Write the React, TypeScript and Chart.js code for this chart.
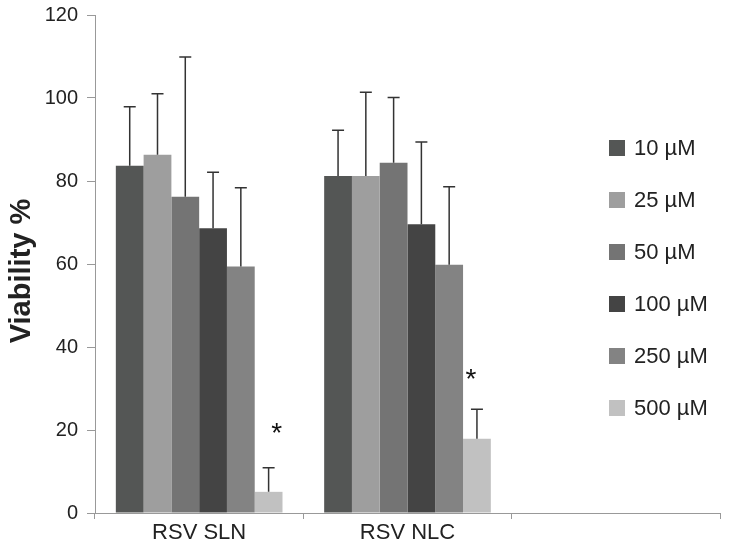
import React, { useEffect, useRef } from "react";
import { Chart, registerables } from "chart.js";

Chart.register(...registerables);

const categories = ["RSV SLN", "RSV NLC", ""];
const seriesLabels = ["10 µM", "25 µM", "50 µM", "100 µM", "250 µM", "500 µM"];
const seriesColors = ["#545655", "#9e9e9e", "#747474", "#444444", "#838383", "#c1c1c1"];

const v10 = [83.7, 81.2, null];
const v25 = [86.3, 81.2, null];
const v50 = [76.2, 84.4, null];
const v100 = [68.6, 69.6, null];
const v250 = [59.4, 59.8, null];
const v500 = [5.1, 17.9, null];

const e10 = [14.2, 11.0, null];
const e25 = [14.7, 20.2, null];
const e50 = [33.7, 15.7, null];
const e100 = [13.5, 19.8, null];
const e250 = [19.0, 18.8, null];
const e500 = [5.8, 7.1, null];

const seriesValues = [v10, v25, v50, v100, v250, v500];
const seriesErrors = [e10, e25, e50, e100, e250, e500];

// significance marks ("*") placed over the 500 µM bars
const starValues = [20.3, 33.5, null];
const starSeriesIndex = 5;

const FONT = "'Liberation Sans', Arial, Helvetica, sans-serif";
const starShift = [8, -6, 0];

const extrasPlugin = {
  id: "extras",
  afterDatasetsDraw(chart: any) {
    const ctx = chart.ctx;
    const yScale = chart.scales.y;
    ctx.save();
    // error bars
    ctx.strokeStyle = "#333333";
    ctx.lineWidth = 1.5;
    seriesValues.forEach((vals, i) => {
      const meta = chart.getDatasetMeta(i);
      meta.data.forEach((bar: any, j: number) => {
        const v = vals[j];
        const e = seriesErrors[i][j];
        if (v == null || e == null) return;
        const x = bar.x;
        const yTop = yScale.getPixelForValue(v + e);
        const yBar = yScale.getPixelForValue(v);
        ctx.beginPath();
        ctx.moveTo(x, yBar);
        ctx.lineTo(x, yTop);
        ctx.moveTo(x - 6, yTop);
        ctx.lineTo(x + 6, yTop);
        ctx.stroke();
      });
    });
    // asterisks
    const meta = chart.getDatasetMeta(starSeriesIndex);
    ctx.fillStyle = "#111111";
    ctx.font = `28px ${FONT}`;
    ctx.textAlign = "center";
    ctx.textBaseline = "middle";
    meta.data.forEach((bar: any, j: number) => {
      const s = starValues[j];
      if (s == null) return;
      const y = yScale.getPixelForValue(s);
      ctx.fillText("*", bar.x + starShift[j], y + 6);
    });
    ctx.restore();
  },
  afterDraw(chart: any) {
    const ctx = chart.ctx;
    ctx.save();
    // y axis title
    ctx.translate(22, 271);
    ctx.rotate(-Math.PI / 2);
    ctx.font = `bold 29px ${FONT}`;
    ctx.fillStyle = "#222222";
    ctx.textAlign = "center";
    ctx.textBaseline = "middle";
    ctx.fillText("Viability %", 0, 0);
    ctx.restore();

    // legend
    ctx.save();
    ctx.font = `22px ${FONT}`;
    ctx.textAlign = "left";
    ctx.textBaseline = "middle";
    seriesLabels.forEach((label, i) => {
      const cy = 148 + i * 52;
      ctx.fillStyle = seriesColors[i];
      ctx.fillRect(609, cy - 8, 16, 16);
      ctx.fillStyle = "#222222";
      ctx.fillText(label, 634, cy + 1);
    });
    ctx.restore();
  },
};

export default function App() {
  const canvasRef = useRef<HTMLCanvasElement | null>(null);

  useEffect(() => {
    document.body.style.margin = "0";
    const canvas = canvasRef.current;
    if (!canvas) return;
    const chart = new Chart(canvas, {
      type: "bar",
      data: {
        labels: categories,
        datasets: seriesValues.map((vals, i) => ({
          label: seriesLabels[i],
          data: vals as any,
          backgroundColor: seriesColors[i],
          borderWidth: 0,
          categoryPercentage: 0.8,
          barPercentage: 1.0,
        })),
      },
      options: {
        responsive: false,
        animation: false,
        devicePixelRatio: 1,
        layout: { padding: { top: 15, right: 34, left: 0, bottom: 0 } },
        plugins: {
          legend: { display: false },
          tooltip: { enabled: false },
          title: { display: false },
        },
        scales: {
          x: {
            grid: {
              drawOnChartArea: false,
              drawTicks: true,
              tickLength: 6,
              color: "#999999",
              offset: true,
            },
            border: { display: true, color: "#999999", width: 1 },
            ticks: {
              font: { family: FONT, size: 22 },
              color: "#222222",
              padding: 1,
              maxRotation: 0,
            },
            afterFit: (s: any) => {
              s.height = 35;
              s.paddingLeft = 0;
              s.paddingRight = 0;
            },
          },
          y: {
            min: 0,
            max: 120,
            grid: {
              drawOnChartArea: false,
              drawTicks: true,
              tickLength: 8,
              color: "#999999",
            },
            border: { display: true, color: "#999999", width: 1 },
            ticks: {
              stepSize: 20,
              font: { family: FONT, size: 20 },
              color: "#222222",
              padding: 9,
            },
            afterFit: (s: any) => {
              s.width = 95;
              s.paddingTop = 0;
              s.paddingBottom = 0;
            },
          },
        },
      },
      plugins: [extrasPlugin],
    });
    return () => chart.destroy();
  }, []);

  return (
    <div style={{ width: 754, height: 548 }}>
      <canvas ref={canvasRef} width={754} height={548} />
    </div>
  );
}
